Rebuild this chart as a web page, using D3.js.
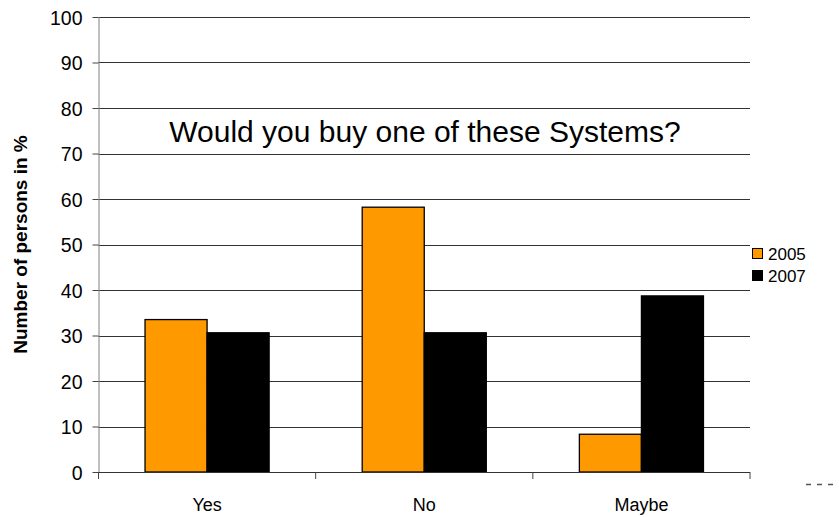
<!DOCTYPE html>
<html>
<head>
<meta charset="utf-8">
<script src="https://cdn.jsdelivr.net/npm/d3@7"></script>
<style>
  html, body { margin: 0; padding: 0; background: #fff; }
  svg { display: block; font-family: Arial, "Liberation Sans", sans-serif; }
</style>
</head>
<body>
<svg id="chart" width="839" height="517"></svg>
<script>
const categories = ["Yes", "No", "Maybe"];
const seriesNames = ["2005", "2007"];
const values2005 = [33.5, 58.2, 8.3];
const values2007 = [30.6, 30.6, 38.7];
const yTicks = [0, 10, 20, 30, 40, 50, 60, 70, 80, 90, 100];
const colors = ["#FF9900", "#000000"];
const title = "Would you buy one of these Systems?";
const yLabel = "Number of persons in %";

const svg = d3.select("#chart");
const margin = { left: 98.5, right: 89, top: 17, bottom: 45 };
const W = 839, H = 517;
const plotW = W - margin.left - margin.right;
const plotH = H - margin.top - margin.bottom;

const x0 = d3.scaleBand().domain(categories).range([0, plotW]).paddingInner(0).paddingOuter(0);
const x1 = d3.scaleBand().domain(seriesNames).range([0, x0.bandwidth()]).paddingInner(0).paddingOuter(0.75);
const y = d3.scaleLinear().domain([0, 100]).range([plotH, 0]);

const g = svg.append("g").attr("transform", `translate(${margin.left},${margin.top})`);

// gridlines
g.append("g").selectAll("line").data(yTicks.filter(d => d > 0)).join("line")
  .attr("x1", 0).attr("x2", plotW)
  .attr("y1", d => Math.round(y(d)) + 0.5).attr("y2", d => Math.round(y(d)) + 0.5)
  .attr("stroke", "#333").attr("stroke-width", 1);

// bars
const data = categories.map((c, i) => ({ cat: c, vals: [values2005[i], values2007[i]] }));
g.append("g").selectAll("g").data(data).join("g")
  .attr("transform", d => `translate(${x0(d.cat)},0)`)
  .selectAll("rect").data(d => d.vals.map((v, j) => ({ s: seriesNames[j], v, j })))
  .join("rect")
  .attr("x", d => x1(d.s))
  .attr("width", x1.bandwidth())
  .attr("y", d => y(d.v))
  .attr("height", d => plotH - y(d.v))
  .attr("fill", d => colors[d.j])
  .attr("stroke", "#000").attr("stroke-width", 1.3);

// y axis
const yAxis = d3.axisLeft(y).tickValues(yTicks).tickSize(6).tickPadding(10);
const ya = g.append("g").call(yAxis);
ya.select(".domain").attr("stroke", "#808080").attr("d", `M0.5,0V${plotH}`);
ya.selectAll(".tick line").attr("stroke", "#444");
ya.selectAll("text").attr("font-size", 19.5).attr("fill", "#000").attr("dy", "0.36em")
  .attr("font-family", "Arial, 'Liberation Sans', sans-serif");

// x axis
const bx = g.append("g").attr("transform", `translate(0,${plotH})`);
bx.append("line").attr("x1", 0).attr("x2", plotW).attr("y1", 0.5).attr("y2", 0.5).attr("stroke", "#333");
const boundaries = categories.map(c => x0(c)).concat([plotW]);
bx.selectAll("line.b").data(boundaries).join("line").attr("class", "b")
  .attr("x1", d => d).attr("x2", d => d).attr("y1", 0).attr("y2", 7).attr("stroke", "#444");
bx.selectAll("text").data(categories).join("text")
  .attr("x", d => x0(d) + x0.bandwidth() / 2)
  .attr("y", 39)
  .attr("text-anchor", "middle")
  .attr("font-size", 18)
  .text(d => d);

// title
svg.append("text")
  .attr("x", 425).attr("y", 142)
  .attr("text-anchor", "middle")
  .attr("font-size", 30)
  .text(title);

// y label
svg.append("text")
  .attr("transform", `translate(27,${margin.top + plotH / 2}) rotate(-90)`)
  .attr("text-anchor", "middle")
  .attr("font-size", 19)
  .attr("font-weight", "bold")
  .text(yLabel);

// legend
const leg = svg.append("g").attr("transform", "translate(752,248)");
seriesNames.forEach((s, i) => {
  const row = leg.append("g").attr("transform", `translate(0,${i * 22})`);
  row.append("rect").attr("x", 0.5).attr("y", 0.5).attr("width", 10).attr("height", 10)
    .attr("fill", colors[i]).attr("stroke", "#000").attr("stroke-width", 1);
  row.append("text").attr("x", 16).attr("y", 11.5).attr("font-size", 17).text(s);
});

// clipped artefact at bottom right
svg.append("line").attr("x1", 806).attr("x2", 836).attr("y1", 484.5).attr("y2", 484.5)
  .attr("stroke", "#555").attr("stroke-width", 1.5).attr("stroke-dasharray", "5,6");
</script>
</body>
</html>
